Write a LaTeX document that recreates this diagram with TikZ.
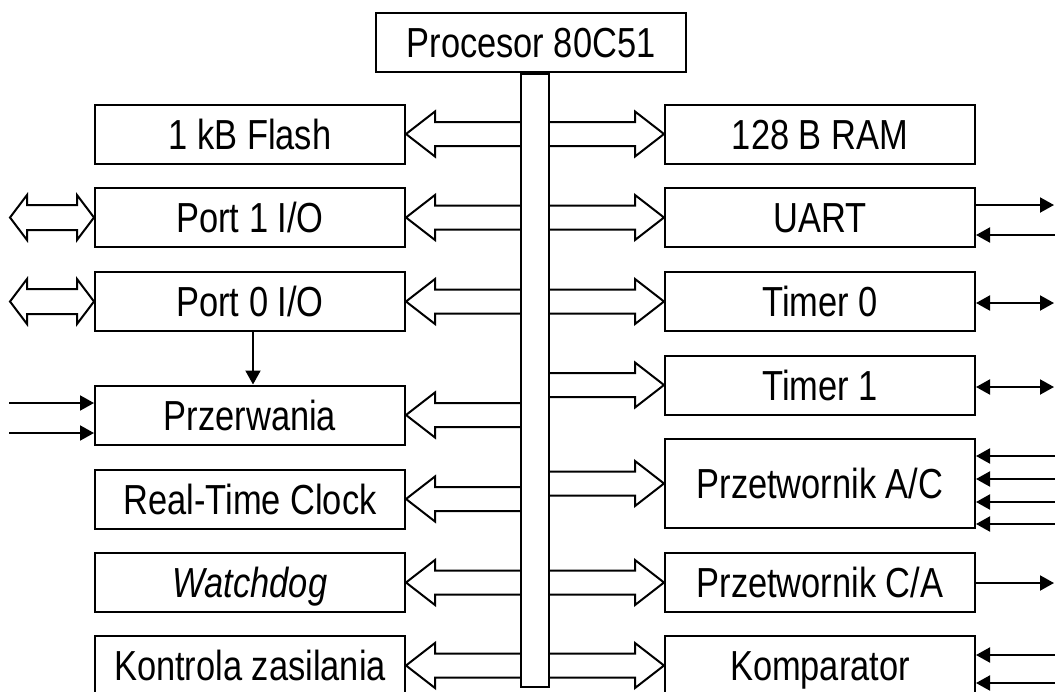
\documentclass[tikz,border=0pt]{standalone}
\usepackage{fontspec}
\setmainfont{Liberation Sans}[FakeStretch=0.82]
\usetikzlibrary{positioning,arrows.meta,calc}

% hollow bus arrow: from #1 (on the bus) to the tip #2
\newcommand{\busarrow}[2]{%
  \draw[line width=2pt] let \p1=(#1), \p2=(#2), \n1={ifthenelse(\x2>\x1,1,-1)} in
    (\x1,\y1+12pt) -- (\x2-\n1*29pt,\y1+12pt) -- (\x2-\n1*29pt,\y1+22.5pt) -- (\x2,\y2)
    -- (\x2-\n1*29pt,\y1-22.5pt) -- (\x2-\n1*29pt,\y1-12pt) -- (\x1,\y1-12pt);}
% hollow double arrow between #1 (left tip) and #2 (right tip)
\newcommand{\portarrow}[2]{%
  \draw[line width=2pt] let \p1=(#1), \p2=(#2) in
    (\x1,\y1) -- (\x1+17pt,\y1+22.5pt) -- (\x1+17pt,\y1+12.5pt) -- (\x2-17pt,\y1+12.5pt)
    -- (\x2-17pt,\y1+22.5pt) -- (\x2,\y2) -- (\x2-17pt,\y1-22.5pt) -- (\x2-17pt,\y1-12.5pt)
    -- (\x1+17pt,\y1-12.5pt) -- (\x1+17pt,\y1-22.5pt) -- cycle;}

\begin{document}
\begin{tikzpicture}[
  x=1pt, y=-1pt,
  font=\fontsize{42}{50}\selectfont,
  block/.style={draw, line width=2pt, minimum width=310pt, minimum height=59pt, inner sep=0pt,
    text height=30pt, text depth=0pt},
  busbar/.style={draw, line width=2pt, minimum width=28pt, minimum height=613pt, inner sep=0pt},
  sig/.style={-{Triangle[length=14pt,width=15pt]}, line width=2pt},
  sigs/.style={{Triangle[length=14pt,width=15pt]}-{Triangle[length=14pt,width=15pt]}, line width=2pt}
]
\useasboundingbox (0,0) rectangle (1055,691);
\clip (0,0) rectangle (1055,691);

\node[block] (cpu) at (531,42.5) {Procesor 80C51};
\node[busbar] (bus) at (535,380.5) {};

% left column
\node[block] (flash) at (250,134) {1 kB Flash};
\node[block] (port1) at (250,217.5) {Port 1 I/O};
\node[block] (port0) at (250,301.5) {Port 0 I/O};
\node[block] (irq) at (250,415) {Przerwania};
\node[block] (rtc) at (250,499) {Real-Time Clock};
\node[block] (wdog) at (250,582.5) {\itshape Watchdog};
\node[block] (power) at (250,665.5) {Kontrola zasilania};

% right column
\node[block] (ram) at (820,134) {128 B RAM};
\node[block] (uart) at (820,217.5) {UART};
\node[block] (timer0) at (820,301.5) {Timer 0};
\node[block] (timer1) at (820,385) {Timer 1};
\node[block, minimum height=89pt] (adc) at (820,483.5) {Przetwornik A/C};
\node[block] (dac) at (820,582.5) {Przetwornik C/A};
\node[block] (comp) at (820,665.5) {Komparator};

\foreach \b in {flash,port1,port0,irq,rtc,wdog,power} \busarrow{bus.west |- \b.east}{\b.east};
\foreach \b in {ram,uart,timer0,timer1,adc,dac,comp} \busarrow{bus.east |- \b.west}{\b.west};

% external ports
\coordinate (p1out) at ([xshift=-84pt]port1.west);
\coordinate (p0out) at ([xshift=-84pt]port0.west);
\portarrow{p1out}{port1.west}
\portarrow{p0out}{port0.west}
\draw[sig] ([xshift=3pt]port0.south) -- ([xshift=3pt]irq.north);

\coordinate (irqA) at (9,403);
\coordinate (irqB) at (9,433);
\foreach \c in {irqA,irqB} \draw[sig] (\c) -- (\c -| irq.west);

% right side signals
\coordinate (uartTx) at (1054,205);
\coordinate (uartRx) at (1055,235);
\draw[sig] (uart.east |- uartTx) -- (uartTx);
\draw[sig] (uartRx) -- (uartRx -| uart.east);
\coordinate (t0io) at (1054,303);
\coordinate (t1io) at (1054,387);
\draw[sigs] (timer0.east |- t0io) -- (t0io);
\draw[sigs] (timer1.east |- t1io) -- (t1io);
\foreach \y [count=\i] in {456,479,502,524} {
  \coordinate (ain\i) at (1055,\y);
  \draw[sig] (ain\i) -- (ain\i -| adc.east);
}
\coordinate (aout) at (1054,583);
\draw[sig] (dac.east |- aout) -- (aout);
\coordinate (cmpA) at (1055,655);
\coordinate (cmpB) at (1055,683);
\foreach \c in {cmpA,cmpB} \draw[sig] (\c) -- (\c -| comp.east);
\end{tikzpicture}
\end{document}
